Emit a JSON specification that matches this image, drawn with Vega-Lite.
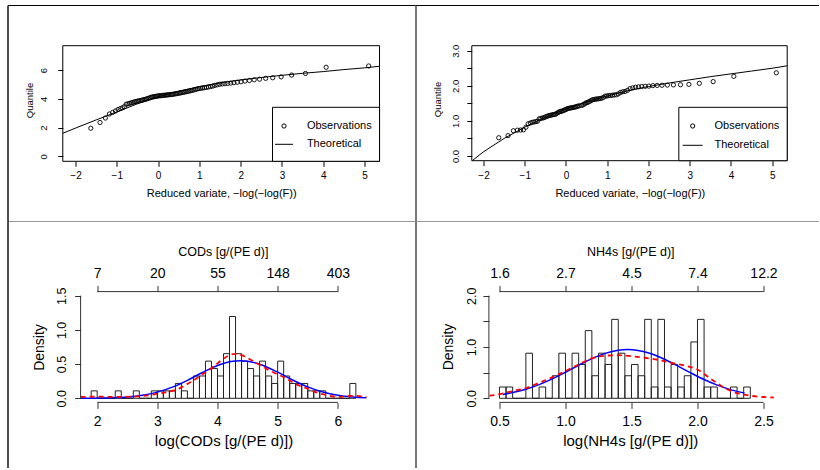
{
"$schema": "https://vega.github.io/schema/vega-lite/v6.json",
"padding": {"left": 7.5, "top": 5, "right": 0, "bottom": 0},
"bounds": "flush",
"spacing": 0,
"columns": 2,
"resolve": {"scale": {"shape": "independent", "size": "independent"}},
"config": {
  "view": {"stroke": null},
  "font": "Liberation Sans",
  "axis": {"grid": false, "domain": false, "labelFont": "Liberation Sans", "titleFont": "Liberation Sans", "labelColor": "black", "titleColor": "black", "titleFontWeight": "normal", "labelOverlap": false, "labelFlush": false, "tickColor": "black"},
  "legend": {"labelFont": "Liberation Sans"}
},
"datasets": {
  "codqq": [
    {"rv": -1.6298, "v": 1.95}, {"rv": -1.4057, "v": 2.35}, {"rv": -1.2762, "v": 2.66}, {"rv": -1.1797, "v": 2.94},
    {"rv": -1.1005, "v": 3.05}, {"rv": -1.0323, "v": 3.15}, {"rv": -0.9716, "v": 3.25}, {"rv": -0.9164, "v": 3.32},
    {"rv": -0.8654, "v": 3.37}, {"rv": -0.8178, "v": 3.45}, {"rv": -0.7729, "v": 3.62}, {"rv": -0.7302, "v": 3.65},
    {"rv": -0.6895, "v": 3.68}, {"rv": -0.6502, "v": 3.72}, {"rv": -0.6124, "v": 3.75}, {"rv": -0.5757, "v": 3.78},
    {"rv": -0.5400, "v": 3.81}, {"rv": -0.5053, "v": 3.83}, {"rv": -0.4713, "v": 3.85}, {"rv": -0.4380, "v": 3.87},
    {"rv": -0.4053, "v": 3.89}, {"rv": -0.3731, "v": 3.915}, {"rv": -0.3414, "v": 3.94}, {"rv": -0.3101, "v": 3.96},
    {"rv": -0.2791, "v": 3.985}, {"rv": -0.2485, "v": 4.02}, {"rv": -0.2181, "v": 4.05}, {"rv": -0.1879, "v": 4.08},
    {"rv": -0.1579, "v": 4.11}, {"rv": -0.1281, "v": 4.125}, {"rv": -0.0984, "v": 4.14}, {"rv": -0.0688, "v": 4.16},
    {"rv": -0.0392, "v": 4.175}, {"rv": -0.0097, "v": 4.19}, {"rv": 0.0198, "v": 4.205}, {"rv": 0.0493, "v": 4.21},
    {"rv": 0.0789, "v": 4.22}, {"rv": 0.1085, "v": 4.23}, {"rv": 0.1382, "v": 4.24}, {"rv": 0.1681, "v": 4.25},
    {"rv": 0.1981, "v": 4.26}, {"rv": 0.2282, "v": 4.27}, {"rv": 0.2585, "v": 4.28}, {"rv": 0.2891, "v": 4.29},
    {"rv": 0.3199, "v": 4.295}, {"rv": 0.3509, "v": 4.31}, {"rv": 0.3822, "v": 4.325}, {"rv": 0.4139, "v": 4.34},
    {"rv": 0.4459, "v": 4.36}, {"rv": 0.4782, "v": 4.375}, {"rv": 0.5109, "v": 4.39}, {"rv": 0.5441, "v": 4.41},
    {"rv": 0.5778, "v": 4.43}, {"rv": 0.6120, "v": 4.45}, {"rv": 0.6467, "v": 4.47}, {"rv": 0.6820, "v": 4.49},
    {"rv": 0.7179, "v": 4.515}, {"rv": 0.7545, "v": 4.54}, {"rv": 0.7918, "v": 4.56}, {"rv": 0.8299, "v": 4.585},
    {"rv": 0.8688, "v": 4.62}, {"rv": 0.9086, "v": 4.65}, {"rv": 0.9494, "v": 4.68}, {"rv": 0.9912, "v": 4.71},
    {"rv": 1.0342, "v": 4.73}, {"rv": 1.0784, "v": 4.75}, {"rv": 1.1240, "v": 4.77}, {"rv": 1.1709, "v": 4.79},
    {"rv": 1.2195, "v": 4.82}, {"rv": 1.2697, "v": 4.85}, {"rv": 1.3219, "v": 4.88}, {"rv": 1.3761, "v": 4.93},
    {"rv": 1.4326, "v": 4.97}, {"rv": 1.4917, "v": 5.01}, {"rv": 1.5536, "v": 5.03}, {"rv": 1.6186, "v": 5.05},
    {"rv": 1.6873, "v": 5.07}, {"rv": 1.7600, "v": 5.09}, {"rv": 1.8374, "v": 5.12}, {"rv": 1.9202, "v": 5.15},
    {"rv": 2.0092, "v": 5.18}, {"rv": 2.1058, "v": 5.23}, {"rv": 2.2112, "v": 5.27}, {"rv": 2.3276, "v": 5.32},
    {"rv": 2.4576, "v": 5.36}, {"rv": 2.6053, "v": 5.42}, {"rv": 2.7764, "v": 5.46}, {"rv": 2.9805, "v": 5.52},
    {"rv": 3.2335, "v": 5.65}, {"rv": 3.5688, "v": 5.76}, {"rv": 4.0699, "v": 6.19}, {"rv": 5.1000, "v": 6.28}
  ],
  "nh4qq": [
    {"rv": -1.6298, "v": 0.52}, {"rv": -1.4057, "v": 0.58}, {"rv": -1.2762, "v": 0.72}, {"rv": -1.1797, "v": 0.735},
    {"rv": -1.1005, "v": 0.74}, {"rv": -1.0323, "v": 0.745}, {"rv": -0.9716, "v": 0.82}, {"rv": -0.9164, "v": 0.92},
    {"rv": -0.8654, "v": 0.94}, {"rv": -0.8178, "v": 0.96}, {"rv": -0.7729, "v": 0.97}, {"rv": -0.7302, "v": 0.98},
    {"rv": -0.6895, "v": 0.99}, {"rv": -0.6502, "v": 1.06}, {"rv": -0.6124, "v": 1.07}, {"rv": -0.5757, "v": 1.08},
    {"rv": -0.5400, "v": 1.09}, {"rv": -0.5053, "v": 1.11}, {"rv": -0.4713, "v": 1.125}, {"rv": -0.4380, "v": 1.14},
    {"rv": -0.4053, "v": 1.155}, {"rv": -0.3731, "v": 1.16}, {"rv": -0.3414, "v": 1.17}, {"rv": -0.3101, "v": 1.18},
    {"rv": -0.2791, "v": 1.185}, {"rv": -0.2485, "v": 1.19}, {"rv": -0.2181, "v": 1.22}, {"rv": -0.1879, "v": 1.24},
    {"rv": -0.1579, "v": 1.26}, {"rv": -0.1281, "v": 1.27}, {"rv": -0.0984, "v": 1.28}, {"rv": -0.0688, "v": 1.29},
    {"rv": -0.0392, "v": 1.31}, {"rv": -0.0097, "v": 1.32}, {"rv": 0.0198, "v": 1.34}, {"rv": 0.0493, "v": 1.355},
    {"rv": 0.0789, "v": 1.36}, {"rv": 0.1085, "v": 1.37}, {"rv": 0.1382, "v": 1.375}, {"rv": 0.1681, "v": 1.38},
    {"rv": 0.1981, "v": 1.39}, {"rv": 0.2282, "v": 1.395}, {"rv": 0.2585, "v": 1.41}, {"rv": 0.2891, "v": 1.42},
    {"rv": 0.3199, "v": 1.43}, {"rv": 0.3822, "v": 1.44}, {"rv": 0.4139, "v": 1.46}, {"rv": 0.4459, "v": 1.48},
    {"rv": 0.4782, "v": 1.51}, {"rv": 0.5109, "v": 1.52}, {"rv": 0.5441, "v": 1.54}, {"rv": 0.5778, "v": 1.56},
    {"rv": 0.6120, "v": 1.58}, {"rv": 0.6467, "v": 1.605}, {"rv": 0.6820, "v": 1.61}, {"rv": 0.7179, "v": 1.62},
    {"rv": 0.7545, "v": 1.625}, {"rv": 0.7918, "v": 1.63}, {"rv": 0.8299, "v": 1.64}, {"rv": 0.8688, "v": 1.645},
    {"rv": 0.9086, "v": 1.67}, {"rv": 0.9494, "v": 1.705}, {"rv": 0.9912, "v": 1.71}, {"rv": 1.0342, "v": 1.72},
    {"rv": 1.0784, "v": 1.725}, {"rv": 1.1240, "v": 1.73}, {"rv": 1.1709, "v": 1.74}, {"rv": 1.2195, "v": 1.745},
    {"rv": 1.2697, "v": 1.77}, {"rv": 1.3219, "v": 1.81}, {"rv": 1.3761, "v": 1.83}, {"rv": 1.4326, "v": 1.84},
    {"rv": 1.4917, "v": 1.87}, {"rv": 1.5536, "v": 1.92}, {"rv": 1.6186, "v": 1.94}, {"rv": 1.6873, "v": 1.96},
    {"rv": 1.7600, "v": 1.97}, {"rv": 1.8374, "v": 1.98}, {"rv": 1.9202, "v": 1.985}, {"rv": 2.0092, "v": 1.99},
    {"rv": 2.1058, "v": 2.005}, {"rv": 2.2112, "v": 2.01}, {"rv": 2.3276, "v": 2.015}, {"rv": 2.4576, "v": 2.02},
    {"rv": 2.6053, "v": 2.025}, {"rv": 2.7764, "v": 2.03}, {"rv": 2.9805, "v": 2.04}, {"rv": 3.2335, "v": 2.07},
    {"rv": 3.5688, "v": 2.12}, {"rv": 4.0699, "v": 2.27}, {"rv": 5.1000, "v": 2.37}
  ],
  "codtheo": [
    {"rv": -2.308, "v": 1.60}, {"rv": -2.0, "v": 1.96}, {"rv": -1.5, "v": 2.53}, {"rv": -1.0, "v": 3.08},
    {"rv": -0.5, "v": 3.65}, {"rv": 0.0, "v": 4.15}, {"rv": 0.5, "v": 4.53}, {"rv": 1.0, "v": 4.84},
    {"rv": 1.5, "v": 5.10}, {"rv": 2.0, "v": 5.31}, {"rv": 2.5, "v": 5.48}, {"rv": 3.0, "v": 5.63},
    {"rv": 3.5, "v": 5.77}, {"rv": 4.0, "v": 5.89}, {"rv": 4.5, "v": 6.03}, {"rv": 5.0, "v": 6.15}, {"rv": 5.363, "v": 6.26}
  ],
  "nh4theo": [
    {"rv": -2.27, "v": -0.13}, {"rv": -2.0, "v": 0.12}, {"rv": -1.5, "v": 0.5}, {"rv": -1.0, "v": 0.82},
    {"rv": -0.5, "v": 1.1}, {"rv": 0.0, "v": 1.34}, {"rv": 0.5, "v": 1.54}, {"rv": 1.0, "v": 1.71},
    {"rv": 1.5, "v": 1.86}, {"rv": 2.0, "v": 1.98}, {"rv": 2.5, "v": 2.08}, {"rv": 3.0, "v": 2.17},
    {"rv": 3.5, "v": 2.26}, {"rv": 4.0, "v": 2.34}, {"rv": 4.5, "v": 2.42}, {"rv": 5.0, "v": 2.5}, {"rv": 5.364, "v": 2.57}
  ],
  "codhist": [
    {"b0": 1.9, "b1": 2.0, "d": 0.1087}, {"b0": 2.0, "b1": 2.1, "d": 0}, {"b0": 2.1, "b1": 2.2, "d": 0}, {"b0": 2.2, "b1": 2.3, "d": 0},
    {"b0": 2.3, "b1": 2.4, "d": 0.1087}, {"b0": 2.4, "b1": 2.5, "d": 0}, {"b0": 2.5, "b1": 2.6, "d": 0}, {"b0": 2.6, "b1": 2.7, "d": 0.1087},
    {"b0": 2.7, "b1": 2.8, "d": 0}, {"b0": 2.8, "b1": 2.9, "d": 0}, {"b0": 2.9, "b1": 3.0, "d": 0.1087}, {"b0": 3.0, "b1": 3.1, "d": 0.1087},
    {"b0": 3.1, "b1": 3.2, "d": 0.1087}, {"b0": 3.2, "b1": 3.3, "d": 0.1087}, {"b0": 3.3, "b1": 3.4, "d": 0.2174}, {"b0": 3.4, "b1": 3.5, "d": 0.1087},
    {"b0": 3.5, "b1": 3.6, "d": 0}, {"b0": 3.6, "b1": 3.7, "d": 0.3261}, {"b0": 3.7, "b1": 3.8, "d": 0.3261}, {"b0": 3.8, "b1": 3.9, "d": 0.5435},
    {"b0": 3.9, "b1": 4.0, "d": 0.4348}, {"b0": 4.0, "b1": 4.1, "d": 0.3261}, {"b0": 4.1, "b1": 4.2, "d": 0.6522}, {"b0": 4.2, "b1": 4.3, "d": 1.1957},
    {"b0": 4.3, "b1": 4.4, "d": 0.6522}, {"b0": 4.4, "b1": 4.5, "d": 0.5435}, {"b0": 4.5, "b1": 4.6, "d": 0.4348}, {"b0": 4.6, "b1": 4.7, "d": 0.3261},
    {"b0": 4.7, "b1": 4.8, "d": 0.5435}, {"b0": 4.8, "b1": 4.9, "d": 0.3261}, {"b0": 4.9, "b1": 5.0, "d": 0.2174}, {"b0": 5.0, "b1": 5.1, "d": 0.5435},
    {"b0": 5.1, "b1": 5.2, "d": 0.3261}, {"b0": 5.2, "b1": 5.3, "d": 0.2174}, {"b0": 5.3, "b1": 5.4, "d": 0.2174}, {"b0": 5.4, "b1": 5.5, "d": 0.2174},
    {"b0": 5.5, "b1": 5.6, "d": 0.1087}, {"b0": 5.6, "b1": 5.7, "d": 0.1087}, {"b0": 5.7, "b1": 5.8, "d": 0.1087}, {"b0": 5.8, "b1": 5.9, "d": 0},
    {"b0": 5.9, "b1": 6.0, "d": 0}, {"b0": 6.0, "b1": 6.1, "d": 0}, {"b0": 6.1, "b1": 6.2, "d": 0}, {"b0": 6.2, "b1": 6.3, "d": 0.2174}
  ],
  "nh4hist": [
    {"b0": 0.50, "b1": 0.55, "d": 0.2198}, {"b0": 0.55, "b1": 0.60, "d": 0.2198}, {"b0": 0.60, "b1": 0.65, "d": 0}, {"b0": 0.65, "b1": 0.70, "d": 0},
    {"b0": 0.70, "b1": 0.75, "d": 0.8791}, {"b0": 0.75, "b1": 0.80, "d": 0}, {"b0": 0.80, "b1": 0.85, "d": 0.2198}, {"b0": 0.85, "b1": 0.90, "d": 0},
    {"b0": 0.90, "b1": 0.95, "d": 0.4396}, {"b0": 0.95, "b1": 1.00, "d": 0.8791}, {"b0": 1.00, "b1": 1.05, "d": 0}, {"b0": 1.05, "b1": 1.10, "d": 0.8791},
    {"b0": 1.10, "b1": 1.15, "d": 0.6593}, {"b0": 1.15, "b1": 1.20, "d": 1.3187}, {"b0": 1.20, "b1": 1.25, "d": 0.4396}, {"b0": 1.25, "b1": 1.30, "d": 0.8791},
    {"b0": 1.30, "b1": 1.35, "d": 0.6593}, {"b0": 1.35, "b1": 1.40, "d": 1.5385}, {"b0": 1.40, "b1": 1.45, "d": 0.8791}, {"b0": 1.45, "b1": 1.50, "d": 0.4396},
    {"b0": 1.50, "b1": 1.55, "d": 0.6593}, {"b0": 1.55, "b1": 1.60, "d": 0.4396}, {"b0": 1.60, "b1": 1.65, "d": 1.5385}, {"b0": 1.65, "b1": 1.70, "d": 0.2198},
    {"b0": 1.70, "b1": 1.75, "d": 1.5385}, {"b0": 1.75, "b1": 1.80, "d": 0.2198}, {"b0": 1.80, "b1": 1.85, "d": 0.6593}, {"b0": 1.85, "b1": 1.90, "d": 0.2198},
    {"b0": 1.90, "b1": 1.95, "d": 0.4396}, {"b0": 1.95, "b1": 2.00, "d": 1.0989}, {"b0": 2.00, "b1": 2.05, "d": 1.5385}, {"b0": 2.05, "b1": 2.10, "d": 0.2198},
    {"b0": 2.10, "b1": 2.15, "d": 0.2198}, {"b0": 2.15, "b1": 2.20, "d": 0}, {"b0": 2.20, "b1": 2.25, "d": 0}, {"b0": 2.25, "b1": 2.30, "d": 0.2198},
    {"b0": 2.30, "b1": 2.35, "d": 0}, {"b0": 2.35, "b1": 2.40, "d": 0.2198}
  ],
  "codnorm": [
    {"x": 1.724, "d": 0.0007}, {"x": 2.0, "d": 0.0025}, {"x": 2.25, "d": 0.0074}, {"x": 2.5, "d": 0.0191}, {"x": 2.75, "d": 0.044},
    {"x": 3.0, "d": 0.090}, {"x": 3.25, "d": 0.163}, {"x": 3.5, "d": 0.263}, {"x": 3.75, "d": 0.377}, {"x": 4.0, "d": 0.480},
    {"x": 4.25, "d": 0.542}, {"x": 4.38, "d": 0.550}, {"x": 4.5, "d": 0.543}, {"x": 4.75, "d": 0.483}, {"x": 5.0, "d": 0.382},
    {"x": 5.25, "d": 0.268}, {"x": 5.5, "d": 0.167}, {"x": 5.75, "d": 0.092}, {"x": 6.0, "d": 0.045}, {"x": 6.25, "d": 0.020}, {"x": 6.476, "d": 0.0086}
  ],
  "codkde": [
    {"x": 1.724, "d": 0.02}, {"x": 2.0, "d": 0.025}, {"x": 2.3, "d": 0.02}, {"x": 2.6, "d": 0.025}, {"x": 2.9, "d": 0.05},
    {"x": 3.0, "d": 0.065}, {"x": 3.15, "d": 0.09}, {"x": 3.3, "d": 0.12}, {"x": 3.4, "d": 0.16}, {"x": 3.5, "d": 0.21},
    {"x": 3.6, "d": 0.26}, {"x": 3.7, "d": 0.32}, {"x": 3.8, "d": 0.38}, {"x": 3.9, "d": 0.44}, {"x": 4.0, "d": 0.51},
    {"x": 4.1, "d": 0.58}, {"x": 4.2, "d": 0.63}, {"x": 4.3, "d": 0.65}, {"x": 4.4, "d": 0.63}, {"x": 4.5, "d": 0.59},
    {"x": 4.6, "d": 0.54}, {"x": 4.7, "d": 0.49}, {"x": 4.8, "d": 0.44}, {"x": 4.9, "d": 0.39}, {"x": 5.0, "d": 0.35},
    {"x": 5.1, "d": 0.31}, {"x": 5.2, "d": 0.26}, {"x": 5.3, "d": 0.21}, {"x": 5.4, "d": 0.17}, {"x": 5.5, "d": 0.14},
    {"x": 5.6, "d": 0.10}, {"x": 5.7, "d": 0.07}, {"x": 5.8, "d": 0.05}, {"x": 5.9, "d": 0.03}, {"x": 6.0, "d": 0.02},
    {"x": 6.1, "d": 0.025}, {"x": 6.2, "d": 0.035}, {"x": 6.3, "d": 0.035}, {"x": 6.476, "d": 0.02}
  ],
  "nh4norm": [
    {"x": 0.525, "d": 0.076}, {"x": 0.6, "d": 0.111}, {"x": 0.7, "d": 0.177}, {"x": 0.8, "d": 0.266}, {"x": 0.9, "d": 0.378},
    {"x": 1.0, "d": 0.508}, {"x": 1.1, "d": 0.644}, {"x": 1.2, "d": 0.773}, {"x": 1.3, "d": 0.875}, {"x": 1.4, "d": 0.937},
    {"x": 1.47, "d": 0.950}, {"x": 1.55, "d": 0.933}, {"x": 1.65, "d": 0.867}, {"x": 1.75, "d": 0.761}, {"x": 1.85, "d": 0.631},
    {"x": 1.95, "d": 0.494}, {"x": 2.05, "d": 0.366}, {"x": 2.15, "d": 0.256}, {"x": 2.25, "d": 0.169}, {"x": 2.356, "d": 0.103}
  ],
  "nh4kde": [
    {"x": 0.424, "d": 0.05}, {"x": 0.5, "d": 0.08}, {"x": 0.6, "d": 0.14}, {"x": 0.7, "d": 0.20}, {"x": 0.8, "d": 0.30},
    {"x": 0.9, "d": 0.41}, {"x": 1.0, "d": 0.53}, {"x": 1.1, "d": 0.66}, {"x": 1.2, "d": 0.78}, {"x": 1.3, "d": 0.83},
    {"x": 1.4, "d": 0.84}, {"x": 1.5, "d": 0.82}, {"x": 1.6, "d": 0.79}, {"x": 1.7, "d": 0.75}, {"x": 1.8, "d": 0.69},
    {"x": 1.9, "d": 0.64}, {"x": 2.0, "d": 0.56}, {"x": 2.1, "d": 0.38}, {"x": 2.2, "d": 0.21}, {"x": 2.3, "d": 0.10},
    {"x": 2.4, "d": 0.05}, {"x": 2.5, "d": 0.025}, {"x": 2.578, "d": 0.015}
  ]
},
"concat": [
  {
    "width": 408, "height": 216,
    "resolve": {"axis": {"x": "independent", "y": "independent"}},
    "layer": [
      {
        "data": {"values": [{}]},
        "mark": {"type": "rect", "filled": false, "stroke": "black", "strokeWidth": 1},
        "encoding": {
          "x": {"datum": -2.308, "type": "quantitative", "scale": {"domain": [-3.647, 6.234], "nice": false, "zero": false},
                "axis": {"orient": "bottom", "offset": -59.7, "values": [-2, -1, 0, 1, 2, 3, 4, 5], "format": "d", "tickSize": 5, "labelFontSize": 10, "labelPadding": 4, "title": "Reduced variate,  −log(−log(F))", "titleFontSize": 11, "titlePadding": 7, "titleX": 213.7}},
          "x2": {"datum": 5.363},
          "y": {"datum": -0.348, "type": "quantitative", "scale": {"domain": [-4.499, 10.52], "nice": false, "zero": false},
                "axis": {"orient": "left", "offset": -55.3, "values": [0, 2, 4, 6], "format": "d", "tickSize": 5, "labelAngle": -90, "labelAlign": "center", "labelBaseline": "bottom", "labelFontSize": 9.5, "labelPadding": 9.5, "title": "Quantile", "titleFontSize": 9.5, "titlePadding": 4, "titleY": 95}},
          "y2": {"datum": 7.69}
        }
      },
      {
        "data": {"values": [{}]},
        "mark": {"type": "rect", "fill": "white", "stroke": "black", "strokeWidth": 1},
        "encoding": {
          "x": {"datum": 2.771, "type": "quantitative", "scale": {"domain": [-3.647, 6.234], "nice": false, "zero": false}, "axis": null},
          "x2": {"datum": 5.363},
          "y": {"datum": -0.348, "type": "quantitative", "scale": {"domain": [-4.499, 10.52], "nice": false, "zero": false}, "axis": null},
          "y2": {"datum": 3.407}
        }
      },
      {
        "data": {"name": "codqq"},
        "mark": {"type": "point", "filled": false, "color": "black", "strokeWidth": 0.9, "opacity": 1},
        "encoding": {
          "x": {"field": "rv", "type": "quantitative", "scale": {"domain": [-3.647, 6.234], "nice": false, "zero": false},
                "axis": {"orient": "top", "domain": true, "domainColor": "black", "domainWidth": 1, "ticks": false, "labels": false, "title": null}},
          "y": {"field": "v", "type": "quantitative", "scale": {"domain": [-4.499, 10.52], "nice": false, "zero": false},
                "axis": {"orient": "left", "domain": true, "domainColor": "black", "domainWidth": 1.4, "ticks": false, "labels": false, "title": null}},
          "shape": {"datum": "Observations", "type": "nominal", "scale": {"domain": ["Observations", "Theoretical"], "range": ["circle", "stroke"]},
                    "legend": {"orient": "none", "legendX": 267, "legendY": 115.5, "title": null, "padding": 0, "labelFontSize": 11, "labelOffset": 13.4, "rowPadding": 3.3, "symbolStrokeColor": "black", "symbolStrokeWidth": 1, "symbolFillColor": "transparent", "labelColor": "black"}},
          "size": {"datum": "Observations", "type": "nominal", "scale": {"type": "ordinal", "domain": ["Observations", "Theoretical"], "range": [18, 324]},
                    "legend": {"orient": "none", "legendX": 267, "legendY": 115.5, "title": null, "padding": 0, "labelFontSize": 11, "labelOffset": 13.4, "rowPadding": 3.3, "symbolStrokeColor": "black", "symbolStrokeWidth": 1, "symbolFillColor": "transparent", "labelColor": "black"}}
        }
      },
      {
        "data": {"name": "codtheo"},
        "mark": {"type": "line", "color": "black", "strokeWidth": 1},
        "encoding": {
          "x": {"field": "rv", "type": "quantitative", "scale": {"domain": [-3.647, 6.234], "nice": false, "zero": false},
                "axis": {"orient": "bottom", "domain": true, "domainColor": "#999999", "domainWidth": 1, "ticks": false, "labels": false, "title": null}},
          "y": {"field": "v", "type": "quantitative", "scale": {"domain": [-4.499, 10.52], "nice": false, "zero": false},
                "axis": {"orient": "right", "domain": true, "domainColor": "#777777", "domainWidth": 2, "ticks": false, "labels": false, "title": null}}
        }
      }
    ]
  },
  {
    "width": 403, "height": 216,
    "resolve": {"axis": {"x": "independent", "y": "independent"}},
    "layer": [
      {
        "data": {"values": [{}]},
        "mark": {"type": "rect", "filled": false, "stroke": "black", "strokeWidth": 1},
        "encoding": {
          "x": {"datum": -2.284, "type": "quantitative", "scale": {"domain": [-3.649, 6.123], "nice": false, "zero": false},
                "axis": {"orient": "bottom", "offset": -60.3, "values": [-2, -1, 0, 1, 2, 3, 4, 5], "format": "d", "tickSize": 5, "labelFontSize": 10, "labelPadding": 4.5, "title": "Reduced variate,  −log(−log(F))", "titleFontSize": 11, "titlePadding": 7, "titleX": 214.3}},
          "x2": {"datum": 5.364},
          "y": {"datum": -0.134, "type": "quantitative", "scale": {"domain": [-1.852, 4.302], "nice": false, "zero": false},
                "axis": {"orient": "left", "offset": -56.3, "values": [0, 0.5, 1, 1.5, 2, 2.5, 3], "labelExpr": "datum.value % 1 === 0 ? format(datum.value, '.1f') : ''", "tickSize": 5, "labelAngle": -90, "labelAlign": "center", "labelBaseline": "bottom", "labelFontSize": 9.5, "labelPadding": 6, "title": "Quantile", "titleFontSize": 9.5, "titlePadding": 8, "titleY": 94}},
          "y2": {"datum": 3.142}
        }
      },
      {
        "data": {"values": [{}]},
        "mark": {"type": "rect", "fill": "white", "stroke": "black", "strokeWidth": 1},
        "encoding": {
          "x": {"datum": 2.736, "type": "quantitative", "scale": {"domain": [-3.649, 6.123], "nice": false, "zero": false}, "axis": null},
          "x2": {"datum": 5.364},
          "y": {"datum": -0.134, "type": "quantitative", "scale": {"domain": [-1.852, 4.302], "nice": false, "zero": false}, "axis": null},
          "y2": {"datum": 1.387}
        }
      },
      {
        "data": {"name": "nh4qq"},
        "mark": {"type": "point", "filled": false, "color": "black", "strokeWidth": 0.9, "opacity": 1},
        "encoding": {
          "x": {"field": "rv", "type": "quantitative", "scale": {"domain": [-3.649, 6.123], "nice": false, "zero": false},
                "axis": {"orient": "top", "domain": true, "domainColor": "black", "domainWidth": 1, "ticks": false, "labels": false, "title": null}},
          "y": {"field": "v", "type": "quantitative", "scale": {"domain": [-1.852, 4.302], "nice": false, "zero": false}, "axis": null},
          "shape": {"datum": "Observations", "type": "nominal", "scale": {"domain": ["Observations", "Theoretical"], "range": ["circle", "stroke"]},
                    "legend": {"orient": "none", "legendX": 266.7, "legendY": 115.5, "title": null, "padding": 0, "labelFontSize": 11, "labelOffset": 11.3, "rowPadding": 3.3, "symbolStrokeColor": "black", "symbolStrokeWidth": 1, "symbolFillColor": "transparent", "labelColor": "black"}},
          "size": {"datum": "Observations", "type": "nominal", "scale": {"type": "ordinal", "domain": ["Observations", "Theoretical"], "range": [18, 400]},
                    "legend": {"orient": "none", "legendX": 266.7, "legendY": 115.5, "title": null, "padding": 0, "labelFontSize": 11, "labelOffset": 11.3, "rowPadding": 3.3, "symbolStrokeColor": "black", "symbolStrokeWidth": 1, "symbolFillColor": "transparent", "labelColor": "black"}}
        }
      },
      {
        "data": {"name": "nh4theo"},
        "mark": {"type": "line", "color": "black", "strokeWidth": 1},
        "encoding": {
          "x": {"field": "rv", "type": "quantitative", "scale": {"domain": [-3.649, 6.123], "nice": false, "zero": false},
                "axis": {"orient": "bottom", "domain": true, "domainColor": "#999999", "domainWidth": 1, "ticks": false, "labels": false, "title": null}},
          "y": {"field": "v", "type": "quantitative", "scale": {"domain": [-1.852, 4.302], "nice": false, "zero": false}, "axis": null}
        }
      }
    ]
  },
  {
    "width": 408, "height": 247,
    "resolve": {"axis": {"x": "independent", "y": "independent"}},
    "layer": [
      {
        "data": {"name": "codhist"},
        "mark": {"type": "rect", "filled": false, "stroke": "#222222", "strokeWidth": 1},
        "encoding": {
          "x": {"field": "b0", "type": "quantitative", "scale": {"domain": [0.5087, 7.2918], "nice": false, "zero": false},
                "axis": {"orient": "bottom", "offset": -65.6, "values": [2, 3, 4, 5, 6], "format": "d", "tickSize": 6, "tickColor": "#333333", "labelFontSize": 14, "labelPadding": 6.3, "title": "log(CODs [g/(PE d)])", "titleFontSize": 15, "titlePadding": 5, "titleX": 216}},
          "x2": {"field": "b1"},
          "y": {"field": "d", "type": "quantitative", "scale": {"domain": [-1.019, 2.592], "nice": false, "zero": false},
                "axis": {"orient": "left", "offset": -73.1, "values": [0, 0.5, 1, 1.5], "format": ".1f", "tickSize": 6, "tickColor": "#333333", "labelAngle": -90, "labelAlign": "center", "labelBaseline": "bottom", "labelFontSize": 12.5, "labelPadding": 6, "title": "Density", "titleFontSize": 14, "titlePadding": 9, "titleY": 126}},
          "y2": {"datum": 0}
        }
      },
      {
        "data": {"name": "codnorm"},
        "mark": {"type": "line", "color": "#0000ff", "strokeWidth": 1.5, "interpolate": "monotone"},
        "encoding": {
          "x": {"field": "x", "type": "quantitative", "scale": {"domain": [0.5087, 7.2918], "nice": false, "zero": false},
                "axis": {"orient": "top", "offset": -70.6, "values": [2, 3, 4, 5, 6], "labelExpr": "format(exp(datum.value), '.0f')", "tickSize": 6, "tickColor": "#333333", "labelFontSize": 14, "labelPadding": 5, "title": "CODs [g/(PE d)]", "titleFontSize": 12.5, "titlePadding": 8, "titleX": 215.3}},
          "y": {"field": "d", "type": "quantitative", "scale": {"domain": [-1.019, 2.592], "nice": false, "zero": false},
                "axis": {"orient": "left", "domain": true, "domainColor": "black", "domainWidth": 1.4, "ticks": false, "labels": false, "title": null}}
        }
      },
      {
        "data": {"name": "codkde"},
        "mark": {"type": "line", "color": "#ff0000", "strokeWidth": 1.8, "strokeDash": [5, 4], "interpolate": "monotone"},
        "encoding": {
          "x": {"field": "x", "type": "quantitative", "scale": {"domain": [0.5087, 7.2918], "nice": false, "zero": false}, "axis": null},
          "y": {"field": "d", "type": "quantitative", "scale": {"domain": [-1.019, 2.592], "nice": false, "zero": false},
                "axis": {"orient": "right", "domain": true, "domainColor": "#777777", "domainWidth": 2, "ticks": false, "labels": false, "title": null}}
        }
      },
      {
        "data": {"values": [{}]},
        "mark": {"type": "rule", "color": "#333333", "strokeWidth": 1},
        "encoding": {
          "x": {"datum": 2, "type": "quantitative", "scale": {"domain": [0.5087, 7.2918], "nice": false, "zero": false}, "axis": null},
          "x2": {"datum": 6},
          "y": {"datum": -0.06, "type": "quantitative", "scale": {"domain": [-1.019, 2.592], "nice": false, "zero": false}, "axis": null}
        }
      },
      {
        "data": {"values": [{}]},
        "mark": {"type": "rule", "color": "#333333", "strokeWidth": 1},
        "encoding": {
          "x": {"datum": 2, "type": "quantitative", "scale": {"domain": [0.5087, 7.2918], "nice": false, "zero": false}, "axis": null},
          "x2": {"datum": 6},
          "y": {"datum": 1.56, "type": "quantitative", "scale": {"domain": [-1.019, 2.592], "nice": false, "zero": false}, "axis": null}
        }
      },
      {
        "data": {"values": [{}]},
        "mark": {"type": "rule", "color": "#333333", "strokeWidth": 1},
        "encoding": {
          "x": {"datum": 1.724, "type": "quantitative", "scale": {"domain": [0.5087, 7.2918], "nice": false, "zero": false}, "axis": null},
          "y": {"datum": 0, "type": "quantitative", "scale": {"domain": [-1.019, 2.592], "nice": false, "zero": false}, "axis": null},
          "y2": {"datum": 1.5}
        }
      }
    ]
  },
  {
    "width": 403, "height": 247,
    "resolve": {"axis": {"x": "independent", "y": "independent"}},
    "layer": [
      {
        "data": {"name": "nh4hist"},
        "mark": {"type": "rect", "filled": false, "stroke": "#222222", "strokeWidth": 1},
        "encoding": {
          "x": {"field": "b0", "type": "quantitative", "scale": {"domain": [-0.136, 2.9167], "nice": false, "zero": false},
                "axis": {"orient": "bottom", "offset": -65.6, "values": [0.5, 1, 1.5, 2, 2.5], "format": ".1f", "tickSize": 6, "tickColor": "#333333", "labelFontSize": 14, "labelPadding": 6.3, "title": "log(NH4s [g/(PE d)])", "titleFontSize": 15, "titlePadding": 5, "titleX": 214.7}},
          "x2": {"field": "b1"},
          "y": {"field": "d", "type": "quantitative", "scale": {"domain": [-1.359, 3.456], "nice": false, "zero": false},
                "axis": {"orient": "left", "offset": -73.4, "values": [0, 0.5, 1, 1.5, 2], "labelExpr": "datum.value % 1 === 0 ? format(datum.value, '.1f') : ''", "tickSize": 6, "tickColor": "#333333", "labelAngle": -90, "labelAlign": "center", "labelBaseline": "bottom", "labelFontSize": 12.5, "labelPadding": 4.5, "title": "Density", "titleFontSize": 14, "titlePadding": 10, "titleY": 125.5}},
          "y2": {"datum": 0}
        }
      },
      {
        "data": {"name": "nh4norm"},
        "mark": {"type": "line", "color": "#0000ff", "strokeWidth": 1.5, "interpolate": "monotone"},
        "encoding": {
          "x": {"field": "x", "type": "quantitative", "scale": {"domain": [-0.136, 2.9167], "nice": false, "zero": false},
                "axis": {"orient": "top", "offset": -70.6, "values": [0.5, 1, 1.5, 2, 2.5], "labelExpr": "format(exp(datum.value), '.1f')", "tickSize": 6, "tickColor": "#333333", "labelFontSize": 14, "labelPadding": 5, "title": "NH4s [g/(PE d)]", "titleFontSize": 12.5, "titlePadding": 8, "titleX": 214.8}},
          "y": {"field": "d", "type": "quantitative", "scale": {"domain": [-1.359, 3.456], "nice": false, "zero": false}, "axis": null}
        }
      },
      {
        "data": {"name": "nh4kde"},
        "mark": {"type": "line", "color": "#ff0000", "strokeWidth": 1.8, "strokeDash": [5, 4], "interpolate": "monotone"},
        "encoding": {
          "x": {"field": "x", "type": "quantitative", "scale": {"domain": [-0.136, 2.9167], "nice": false, "zero": false}, "axis": null},
          "y": {"field": "d", "type": "quantitative", "scale": {"domain": [-1.359, 3.456], "nice": false, "zero": false}, "axis": null}
        }
      },
      {
        "data": {"values": [{}]},
        "mark": {"type": "rule", "color": "#333333", "strokeWidth": 1},
        "encoding": {
          "x": {"datum": 0.5, "type": "quantitative", "scale": {"domain": [-0.136, 2.9167], "nice": false, "zero": false}, "axis": null},
          "x2": {"datum": 2.5},
          "y": {"datum": -0.08, "type": "quantitative", "scale": {"domain": [-1.359, 3.456], "nice": false, "zero": false}, "axis": null}
        }
      },
      {
        "data": {"values": [{}]},
        "mark": {"type": "rule", "color": "#333333", "strokeWidth": 1},
        "encoding": {
          "x": {"datum": 0.5, "type": "quantitative", "scale": {"domain": [-0.136, 2.9167], "nice": false, "zero": false}, "axis": null},
          "x2": {"datum": 2.5},
          "y": {"datum": 2.08, "type": "quantitative", "scale": {"domain": [-1.359, 3.456], "nice": false, "zero": false}, "axis": null}
        }
      },
      {
        "data": {"values": [{}]},
        "mark": {"type": "rule", "color": "#333333", "strokeWidth": 1},
        "encoding": {
          "x": {"datum": 0.42, "type": "quantitative", "scale": {"domain": [-0.136, 2.9167], "nice": false, "zero": false}, "axis": null},
          "y": {"datum": 0, "type": "quantitative", "scale": {"domain": [-1.359, 3.456], "nice": false, "zero": false}, "axis": null},
          "y2": {"datum": 2}
        }
      }
    ]
  }
]
}
